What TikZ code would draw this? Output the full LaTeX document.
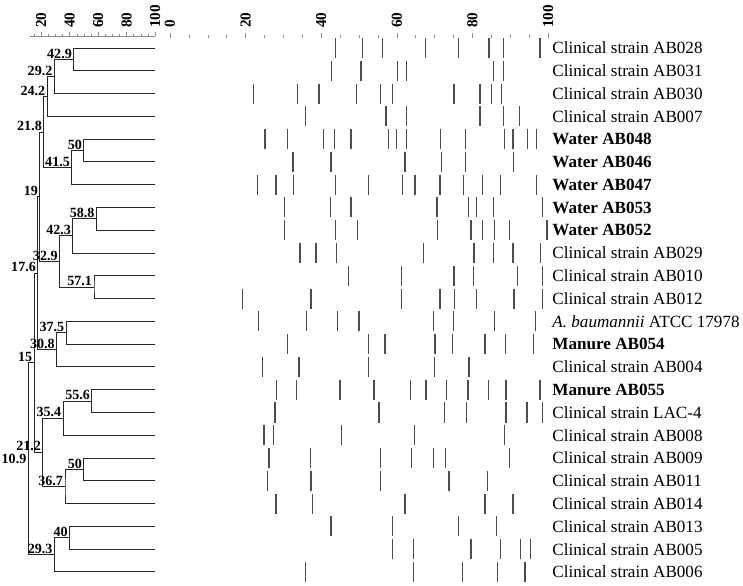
\documentclass[tikz,border=0pt]{standalone}
\usepackage{fontspec}
\setmainfont{Liberation Serif}
\begin{document}
\begin{tikzpicture}[x=0.03cm,y=-0.03cm,
  branch/.style={line width=0.8pt,black!85},
  band/.style={line width=1.1pt,black!70},
  ticmark/.style={line width=0.5pt,black!45},
  simlab/.style={font=\bfseries\fontsize{12}{12}\selectfont,anchor=south east,inner xsep=1.5pt,inner ysep=0.8pt},
  axlab/.style={font=\bfseries\fontsize{13}{13}\selectfont,rotate=90,anchor=west,inner sep=0pt},
  strain/.style={font=\fontsize{14.6}{15}\selectfont,anchor=west,inner sep=0pt}]
\useasboundingbox (0,0) rectangle (743,586);

\begin{scope}[x=0.04266cm,xshift=0.384cm]
\draw[ticmark] (12,36) -- (100,36);
\foreach \s in {15,20,...,100} \draw[ticmark] (\s,36) -- (\s,34);
\foreach \s in {20,40,...,100} \draw[ticmark] (\s,36) -- (\s,32);
\foreach \s in {20,40,...,100} \node[axlab] (d\s) at (\s,28) {\s};
\end{scope}

\begin{scope}[x=0.1134cm,xshift=5.1cm]
\foreach \g in {0,5,...,100} \draw[ticmark] (\g,37.5) -- (\g,35);
\foreach \g in {0,20,...,100} \draw[ticmark] (\g,38) -- (\g,32.5);
\foreach \g in {0,20,...,100} \node[axlab] (g\g) at (\g,28) {\g};
\end{scope}

\begin{scope}[x=0.04266cm,y=-0.6834cm,xshift=0.384cm,yshift=-1.44cm]
\foreach \r in {0,...,23} \coordinate (L\r) at (100,\r);
\coordinate (c429) at (42.9,0.5);
\coordinate (c292) at (29.2,1.25);
\coordinate (c242) at (24.2,2.125);
\coordinate (c50a) at (50,4.5);
\coordinate (c415) at (41.5,5.25);
\coordinate (c218) at (21.8,3.6875);
\coordinate (c588) at (58.8,7.5);
\coordinate (c423) at (42.3,8.25);
\coordinate (c571) at (57.1,10.5);
\coordinate (c329) at (32.9,9.375);
\coordinate (c19) at (19,6.531);
\coordinate (c375) at (37.5,12.5);
\coordinate (c308) at (30.8,13.25);
\coordinate (c176) at (17.6,9.891);
\coordinate (c556) at (55.6,15.5);
\coordinate (c354) at (35.4,16.25);
\coordinate (c50b) at (50,18.5);
\coordinate (c367) at (36.7,19.25);
\coordinate (c212) at (21.2,17.75);
\coordinate (c15) at (15,13.82);
\coordinate (c40) at (40,21.5);
\coordinate (c293) at (29.3,22.25);
\coordinate (c109) at (10.9,18.035);
\draw[branch] (L0) -| (c429) |- (L1);
\draw[branch] (c429) -| (c292) |- (L2);
\draw[branch] (c292) -| (c242) |- (L3);
\draw[branch] (L4) -| (c50a) |- (L5);
\draw[branch] (c50a) -| (c415) |- (L6);
\draw[branch] (c242) -| (c218) |- (c415);
\draw[branch] (L7) -| (c588) |- (L8);
\draw[branch] (c588) -| (c423) |- (L9);
\draw[branch] (L10) -| (c571) |- (L11);
\draw[branch] (c423) -| (c329) |- (c571);
\draw[branch] (c218) -| (c19) |- (c329);
\draw[branch] (L12) -| (c375) |- (L13);
\draw[branch] (c375) -| (c308) |- (L14);
\draw[branch] (c19) -| (c176) |- (c308);
\draw[branch] (L15) -| (c556) |- (L16);
\draw[branch] (c556) -| (c354) |- (L17);
\draw[branch] (L18) -| (c50b) |- (L19);
\draw[branch] (c50b) -| (c367) |- (L20);
\draw[branch] (c354) -| (c212) |- (c367);
\draw[branch] (c176) -| (c15) |- (c212);
\draw[branch] (L21) -| (c40) |- (L22);
\draw[branch] (c40) -| (c293) |- (L23);
\draw[branch] (c15) -| (c109) |- (c293);
\node[simlab] (l429) at (c429) {42.9};
\node[simlab] (l292) at (c292) {29.2};
\node[simlab] (l242) at (c242) {24.2};
\node[simlab] (l50a) at (c50a) {50};
\node[simlab] (l415) at (c415) {41.5};
\node[simlab] (l218) at (c218) {21.8};
\node[simlab] (l588) at (c588) {58.8};
\node[simlab] (l423) at (c423) {42.3};
\node[simlab] (l571) at (c571) {57.1};
\node[simlab] (l329) at (c329) {32.9};
\node[simlab] (l19) at (c19) {19};
\node[simlab] (l375) at (c375) {37.5};
\node[simlab] (l308) at (c308) {30.8};
\node[simlab] (l176) at (c176) {17.6};
\node[simlab] (l556) at (c556) {55.6};
\node[simlab] (l354) at (c354) {35.4};
\node[simlab] (l50b) at (c50b) {50};
\node[simlab] (l367) at (c367) {36.7};
\node[simlab] (l212) at (c212) {21.2};
\node[simlab] (l15) at (c15) {15};
\node[simlab] (l40) at (c40) {40};
\node[simlab] (l293) at (c293) {29.3};
\node[simlab,anchor=east] (l109) at (c109) {10.9};
\end{scope}

\begin{scope}[x=0.1134cm,y=-0.6834cm,xshift=5.1cm,yshift=-1.44cm]
\foreach \g in {43.7,51.0,56.2,67.6,76.3,84.4,88.2,97.9} \draw[band] (\g,-0.44) -- (\g,0.44);
\foreach \g in {42.8,50.5,60.2,62.6,85.5,88.2} \draw[band] (\g,0.56) -- (\g,1.44);
\foreach \g in {22.0,33.7,39.4,49.4,55.7,58.8,75.1,82.0,85.1,87.7} \draw[band] (\g,1.56) -- (\g,2.44);
\foreach \g in {35.9,57.1,62.6,82.0,88.2,92.4} \draw[band] (\g,2.56) -- (\g,3.44);
\foreach \g in {25.1,31.0,40.6,43.5,47.9,57.8,60.0,62.6,71.6,78.2,88.4,90.7,94.6,97.0} \draw[band] (\g,3.56) -- (\g,4.44);
\foreach \g in {32.5,42.6,62.2,71.9,78.2,90.8} \draw[band] (\g,4.56) -- (\g,5.44);
\foreach \g in {23.2,28.0,32.6,43.7,52.5,61.5,64.8,71.4,77.6,82.7,87.5,97.0} \draw[band] (\g,5.56) -- (\g,6.44);
\foreach \g in {30.2,42.5,47.9,70.6,78.9,81.1,85.5,98.6} \draw[band] (\g,6.56) -- (\g,7.44);
\foreach \g in {30.2,43.7,49.6,70.8,79.6,82.7,85.8,89.9,99.7} \draw[band] (\g,7.56) -- (\g,8.44);
\foreach \g in {34.4,38.6,44.1,67.0,80.4,85.5,90.7,98.1} \draw[band] (\g,8.56) -- (\g,9.44);
\foreach \g in {47.2,61.3,75.1,80.2,91.9,98.5} \draw[band] (\g,9.56) -- (\g,10.44);
\foreach \g in {19.2,37.3,61.3,71.4,75.2,81.1,91.0,98.5} \draw[band] (\g,10.56) -- (\g,11.44);
\foreach \g in {23.5,36.2,44.3,50.0,69.7,74.9,85.8,96.6} \draw[band] (\g,11.56) -- (\g,12.44);
\foreach \g in {31.1,52.6,56.9,70.1,74.7,83.3,88.8,96.1} \draw[band] (\g,12.56) -- (\g,13.44);
\foreach \g in {24.5,34.1,52.6,69.9,79.1} \draw[band] (\g,13.56) -- (\g,14.44);
\foreach \g in {28.2,33.5,45.0,54.0,63.7,67.7,73.2,78.8,84.2,88.9,97.9} \draw[band] (\g,14.56) -- (\g,15.44);
\foreach \g in {27.8,55.3,72.6,78.5,88.9,94.4,98.6} \draw[band] (\g,15.56) -- (\g,16.44);
\foreach \g in {24.9,27.3,45.4,64.6,88.4} \draw[band] (\g,16.56) -- (\g,17.44);
\foreach \g in {26.2,37.2,55.6,63.8,69.7,72.8,89.9} \draw[band] (\g,17.56) -- (\g,18.44);
\foreach \g in {25.8,37.3,55.6,73.8,84.0} \draw[band] (\g,18.56) -- (\g,19.44);
\foreach \g in {28.0,37.7,62.2,83.3,90.7} \draw[band] (\g,19.56) -- (\g,20.44);
\foreach \g in {42.6,58.9,76.3,86.4} \draw[band] (\g,20.56) -- (\g,21.44);
\foreach \g in {58.9,64.4,79.6,87.5,92.8,95.4} \draw[band] (\g,21.56) -- (\g,22.44);
\foreach \g in {35.9,64.4,77.4,86.6,93.9} \draw[band] (\g,22.56) -- (\g,23.44);
\node[strain] (s0) at (101.1,0) {Clinical strain AB028};
\node[strain] (s1) at (101.1,1) {Clinical strain AB031};
\node[strain] (s2) at (101.1,2) {Clinical strain AB030};
\node[strain] (s3) at (101.1,3) {Clinical strain AB007};
\node[strain] (s4) at (101.1,4) {\bfseries Water AB048};
\node[strain] (s5) at (101.1,5) {\bfseries Water AB046};
\node[strain] (s6) at (101.1,6) {\bfseries Water AB047};
\node[strain] (s7) at (101.1,7) {\bfseries Water AB053};
\node[strain] (s8) at (101.1,8) {\bfseries Water AB052};
\node[strain] (s9) at (101.1,9) {Clinical strain AB029};
\node[strain] (s10) at (101.1,10) {Clinical strain AB010};
\node[strain] (s11) at (101.1,11) {Clinical strain AB012};
\node[strain] (s12) at (101.1,12) {\textit{A. baumannii} ATCC 17978};
\node[strain] (s13) at (101.1,13) {\bfseries Manure AB054};
\node[strain] (s14) at (101.1,14) {Clinical strain AB004};
\node[strain] (s15) at (101.1,15) {\bfseries Manure AB055};
\node[strain] (s16) at (101.1,16) {Clinical strain LAC-4};
\node[strain] (s17) at (101.1,17) {Clinical strain AB008};
\node[strain] (s18) at (101.1,18) {Clinical strain AB009};
\node[strain] (s19) at (101.1,19) {Clinical strain AB011};
\node[strain] (s20) at (101.1,20) {Clinical strain AB014};
\node[strain] (s21) at (101.1,21) {Clinical strain AB013};
\node[strain] (s22) at (101.1,22) {Clinical strain AB005};
\node[strain] (s23) at (101.1,23) {Clinical strain AB006};
\end{scope}
\end{tikzpicture}
\end{document}
